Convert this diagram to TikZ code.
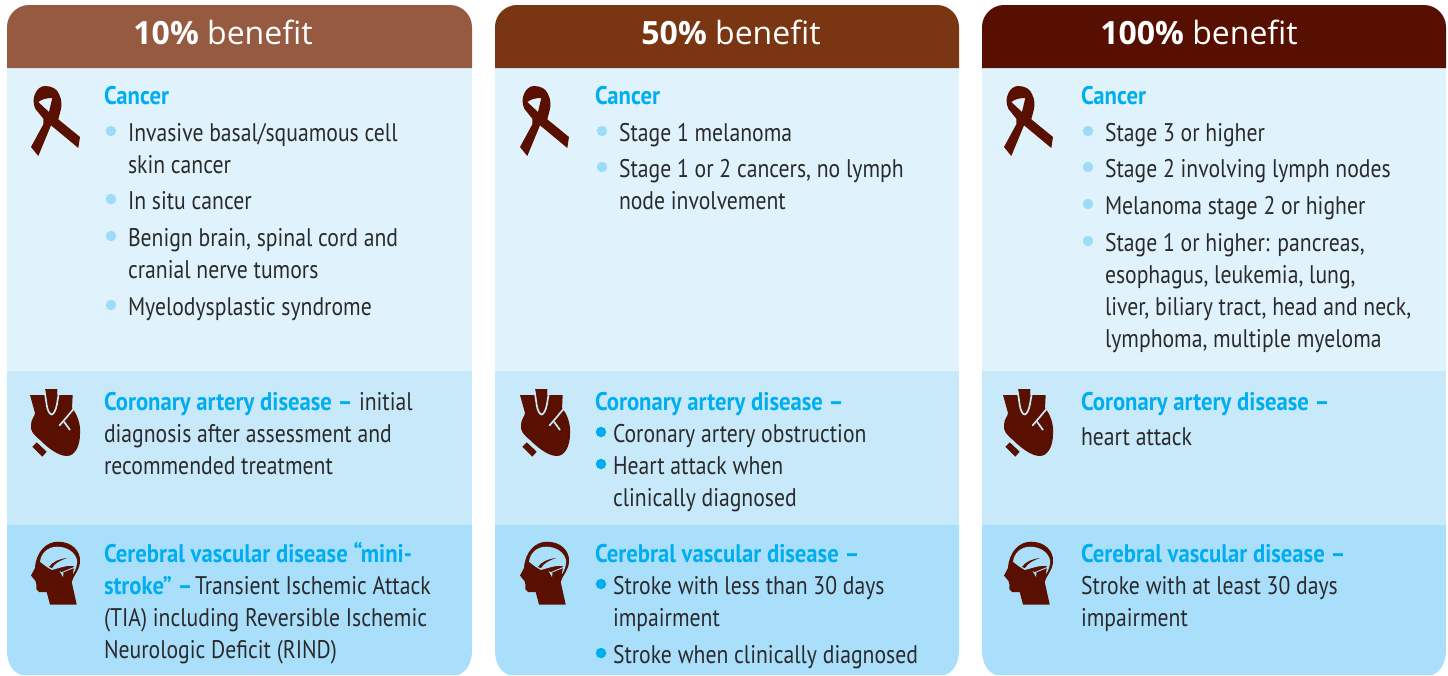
\documentclass[tikz,border=0pt]{standalone}
\usepackage{fontspec}
\setmainfont{PT Sans}
\newfontfamily\hdfont{Open Sans}
\definecolor{hA}{HTML}{955A3F}
\definecolor{hB}{HTML}{7A3512}
\definecolor{hC}{HTML}{560F00}
\definecolor{bA}{HTML}{E0F3FC}
\definecolor{bB}{HTML}{C8E9FA}
\definecolor{bC}{HTML}{AADFFB}
\definecolor{headblue}{HTML}{00AEEF}
\definecolor{ink}{HTML}{2A2A2C}
\definecolor{icon}{HTML}{5A1000}
\definecolor{dotl}{HTML}{9CDCF8}
\tikzset{
 txt/.style={anchor=base west,inner sep=0pt,outer sep=0pt,text=ink,font=\fontsize{25.5}{30}\selectfont},
 blu/.style={txt,text=headblue,font=\fontsize{25.5}{30}\selectfont\bfseries},
 hdr/.style={anchor=base,inner sep=0pt,text=white,font=\hdfont\fontsize{32}{36}\selectfont},
 dot/.style={circle,fill=#1,inner sep=0pt,minimum size=10.5pt}
}
\newcommand{\lin}[4]{\node[txt] (#1) at (#2,#3) {\addfontfeature{FakeStretch=0.85}#4};}
\newcommand{\hea}[4]{\node[blu] (#1) at (#2,#3) {\addfontfeature{FakeStretch=0.89}#4};}
\newcommand{\bul}[4]{\node[dot=#4] (#1) at (#2,#3) {};}
\newcommand{\panel}[6]{%
 \fill[#3] (#1,68) rectangle (#2,371);
 \fill[#4] (#1,371) rectangle (#2,525);
 \fill[#5] (#1,525) -- (#2,525) -- (#2,650) .. controls (#2,664) and (#2-6,672) .. (#2-14,675) -- (#1+14,675) .. controls (#1+6,672) and (#1,664) .. (#1,650) -- cycle;
 \fill[#6] (#1,68) -- (#1,27) .. controls (#1,15) and (#1+10,5) .. (#1+22,5) -- (#2-22,5) .. controls (#2-10,5) and (#2,15) .. (#2,27) -- (#2,68) -- cycle;
}
\newcommand{\ribbon}[1]{\begin{scope}[xshift=#1pt]
 \fill[icon,even odd rule] (38.3,156) -- (31,147) -- (43.5,124) -- (43.3,118.7) -- (35.5,109) .. controls (33,104) and (33,98) .. (35,94)
   .. controls (37,89) and (41,86) .. (45,86) .. controls (52,86) and (57,89) .. (59,94) .. controls (62,100) and (62,106) .. (60.5,111) -- (58.3,119.3) -- (80,137) -- (78.3,148) -- (51,125.3) -- cycle
   (38.3,102) .. controls (42,99) and (47,98) .. (52.3,98) -- (49,112) -- cycle;
\end{scope}}
\newcommand{\heart}[2]{\begin{scope}[xshift=#1pt]
 \fill[icon] (30,395) -- (45,395) -- (45,389) -- (57.3,389) -- (57.3,395) -- (72.7,395) -- (72,408)
   .. controls (77,414) and (81,424) .. (80,434) .. controls (80,446) and (75,456) .. (66.7,456)
   .. controls (58,456) and (47,447) .. (40,440) .. controls (34,435) and (30,431) .. (31,425) .. controls (31,419) and (35,416) .. (35,413) -- cycle;
 \fill[icon] (36.7,442.3) -- (32.3,446.7) -- (42.3,456.7) -- (46.7,451.7) -- cycle;
 \draw[#2,line width=1.7pt] (44.5,390) -- (46.7,405) .. controls (47.5,411) and (50,414.5) .. (51.7,414.5) .. controls (53.5,414.5) and (56,410) .. (57,404) -- (58.5,395) -- (58.5,390);
 \draw[#2,line width=1.7pt] (59.3,425.7) -- (66,418) -- (73.5,409);
 \draw[#2,line width=1.7pt] (64,421.7) -- (70,430);
\end{scope}}
\newcommand{\headicon}[2]{\begin{scope}[xshift=#1pt]
 \fill[icon] (76.7,604.5) -- (50,604.5) -- (46.7,592) -- (39,592) .. controls (36,591) and (36,588) .. (36.5,585) -- (35.5,581) -- (31,575.5) -- (35,568)
  .. controls (36,552) and (46,541.7) .. (58,541.7) .. controls (72,541.7) and (80.5,551) .. (80,561) .. controls (80,570) and (73,576) .. (71.7,582) -- cycle;
 \fill[#2] (40,561.7) .. controls (41,553) and (48,546.7) .. (57,546.7) .. controls (67,546.7) and (75,552) .. (77,560) .. controls (77.5,564) and (76,570) .. (73,574)
   -- (74,566) .. controls (67,565) and (59,568) .. (52,570) .. controls (48,568) and (44,565) .. (40,561.7) -- cycle;
 \fill[icon] (49,567) .. controls (52,562) and (59,559) .. (67,558) .. controls (60,560.5) and (55,563) .. (52,568) -- cycle;
 \draw[#2,line width=.9pt] (62,572.5) -- (74,567.5);
 \fill[#2] (59.5,571) -- (63.5,573) -- (63,577) -- cycle;
\end{scope}}
\begin{document}
\begin{tikzpicture}[x=1pt,y=-1pt]
\useasboundingbox (0,0) rectangle (1448,675);
\fill[white] (0,0) rectangle (1448,675);
\panel{7}{472}{bA}{bB}{bC}{hA}
\panel{495}{959}{bA}{bB}{bC}{hB}
\panel{982}{1446}{bA}{bB}{bC}{hC}
\node[hdr] (t1) at (223,44) {\textbf{10\%} benefit};
\node[hdr] (t2) at (731,44) {\textbf{50\%} benefit};
\node[hdr] (t3) at (1199,44) {\textbf{100\%} benefit};
\ribbon{0}\ribbon{489}\ribbon{973}
\heart{0}{bB}\heart{490}{bB}\heart{973}{bB}
\headicon{0}{bC}\headicon{489}{bC}\headicon{973}{bC}
% column 1
\hea{a0}{104}{104}{Cancer}
\bul{a1d}{111}{131}{dotl}\lin{a1}{128}{141}{Invasive basal/squamous cell}
\lin{a1b}{128}{173}{skin cancer}
\bul{a2d}{111}{199}{dotl}\lin{a2}{128}{209}{In situ cancer}
\bul{a3d}{111}{236}{dotl}\lin{a3}{128}{246}{Benign brain, spinal cord and}
\lin{a3b}{128}{278}{cranial nerve tumors}
\bul{a4d}{111}{305}{dotl}\lin{a4}{128}{315}{Myelodysplastic syndrome}
\hea{a5}{104}{410}{Coronary artery disease –}
\lin{a5b}{359}{410}{initial}
\lin{a6}{104}{442}{diagnosis after assessment and}
\lin{a7}{104}{474}{recommended treatment}
\hea{a8}{104}{562}{Cerebral vascular disease “mini-}
\hea{a9}{104}{594}{stroke” –}
\lin{a9b}{195}{594}{Transient Ischemic Attack}
\lin{a10}{104}{626}{(TIA) including Reversible Ischemic}
\lin{a11}{104}{658}{Neurologic Deficit (RIND)}
% column 2
\hea{b0}{595}{104}{Cancer}
\bul{b1d}{602}{131}{dotl}\lin{b1}{619}{141}{Stage 1 melanoma}
\bul{b2d}{602}{167}{dotl}\lin{b2}{619}{177}{Stage 1 or 2 cancers, no lymph}
\lin{b2b}{619}{209}{node involvement}
\hea{b3}{595}{410}{Coronary artery disease –}
\bul{b4d}{601}{432}{headblue}\lin{b4}{613}{442}{Coronary artery obstruction}
\bul{b5d}{601}{464}{headblue}\lin{b5}{613}{474}{Heart attack when}
\lin{b5b}{613}{506}{clinically diagnosed}
\hea{b6}{595}{562}{Cerebral vascular disease –}
\bul{b7d}{601}{584}{headblue}\lin{b7}{613}{594}{Stroke with less than 30 days}
\lin{b7b}{613}{626}{impairment}
\bul{b8d}{601}{653}{headblue}\lin{b8}{613}{663}{Stroke when clinically diagnosed}
% column 3
\hea{c0}{1081}{104}{Cancer}
\bul{c1d}{1088}{131}{dotl}\lin{c1}{1105}{141}{Stage 3 or higher}
\bul{c2d}{1088}{167}{dotl}\lin{c2}{1105}{177}{Stage 2 involving lymph nodes}
\bul{c3d}{1088}{204}{dotl}\lin{c3}{1105}{214}{Melanoma stage 2 or higher}
\bul{c4d}{1088}{241}{dotl}\lin{c4}{1105}{251}{Stage 1 or higher: pancreas,}
\lin{c4b}{1105}{283}{esophagus, leukemia, lung,}
\lin{c4c}{1105}{315}{liver, biliary tract, head and neck,}
\lin{c4d}{1105}{347}{lymphoma, multiple myeloma}
\hea{c5}{1081}{410}{Coronary artery disease –}
\lin{c6}{1081}{445}{heart attack}
\hea{c7}{1081}{562}{Cerebral vascular disease –}
\lin{c8}{1081}{594}{Stroke with at least 30 days}
\lin{c8b}{1081}{626}{impairment}
\end{tikzpicture}
\end{document}
